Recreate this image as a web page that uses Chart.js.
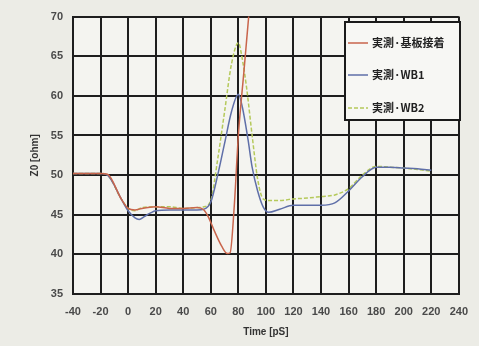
<!DOCTYPE html>
<html>
<head>
<meta charset="utf-8">
<script src="https://cdn.jsdelivr.net/npm/chart.js@4"></script>
<style>
html,body{margin:0;padding:0;background:#ecece6;}
#wrap{width:479px;height:346px;position:relative;}
</style>
</head>
<body>
<div id="wrap"><canvas id="c" width="479" height="346"></canvas></div>
<script>
// ---- data ----
const seriesLabels = ['実測·基板接着', '実測·WB1', '実測·WB2'];
const xTicks = [-40, -20, 0, 20, 40, 60, 80, 100, 120, 140, 160, 180, 200, 220, 240];
const yTicks = [35, 40, 45, 50, 55, 60, 65, 70];

const tRed = [-40, -20, -15, -5, 0, 5, 10, 20, 30, 40, 50, 55, 58, 63, 68, 72, 74, 77, 80, 84, 88, 91];
const vRed = [50.2, 50.2, 50.1, 47.0, 45.8, 45.6, 45.8, 46.0, 45.8, 45.8, 45.9, 45.6, 44.8, 42.8, 41.0, 40.1, 40.2, 46.0, 55.0, 63.0, 71.0, 77.0];

const tBlue = [-40, -20, -15, -5, 0, 5, 8, 12, 16, 20, 30, 40, 50, 55, 60, 65, 70, 75, 80, 83, 87, 90, 94, 98, 102, 110, 120, 130, 140, 150, 160, 170, 180, 190, 200, 210, 220];
const vBlue = [50.2, 50.2, 50.0, 47.0, 45.5, 44.6, 44.4, 44.8, 45.2, 45.5, 45.6, 45.6, 45.6, 45.7, 46.6, 50.0, 54.0, 58.0, 60.2, 58.5, 54.5, 51.0, 48.0, 46.0, 45.3, 45.7, 46.2, 46.2, 46.2, 46.5, 48.0, 49.8, 51.0, 51.0, 50.9, 50.8, 50.6];

const tGreen = [-40, -20, -15, -5, 0, 5, 10, 20, 30, 40, 50, 55, 60, 65, 70, 75, 80, 83, 86, 90, 94, 98, 102, 110, 120, 130, 140, 150, 160, 170, 180, 190, 200, 210, 220];
const vGreen = [50.2, 50.2, 50.0, 47.0, 45.8, 45.5, 45.9, 46.0, 46.0, 45.8, 45.9, 46.0, 46.8, 52.0, 58.0, 64.0, 66.7, 64.5, 61.0, 55.0, 49.5, 47.0, 46.8, 46.8, 47.0, 47.1, 47.3, 47.5, 48.3, 50.0, 51.1, 51.0, 50.9, 50.7, 50.5];

const colors = ['#c9654c', '#5f6fa8', '#b5c95a'];

function pts(t, v){ return t.map((x,i)=>({x:x, y:v[i]})); }

const bgPlugin = {
  id:'bg',
  beforeDraw(chart){
    const {ctx, chartArea:a} = chart;
    ctx.save();
    ctx.fillStyle = '#f4f4f0';
    ctx.fillRect(a.left, a.top, a.right-a.left, a.bottom-a.top);
    ctx.restore();
  }
};

const legendPlugin = {
  id:'boxLegend',
  afterDatasetsDraw(chart){
    const ctx = chart.ctx;
    const x0 = 345, y0 = 22, w = 115, h = 98;
    ctx.save();
    ctx.fillStyle = '#f7f7f4';
    ctx.fillRect(x0, y0, w, h);
    ctx.strokeStyle = '#1a1a1a';
    ctx.lineWidth = 2;
    ctx.strokeRect(x0, y0, w, h);
    const rows = [43, 75, 108];
    chart.data.datasets.forEach((ds,i)=>{
      const y = rows[i];
      ctx.strokeStyle = ds.borderColor;
      ctx.lineWidth = 1.5;
      ctx.setLineDash(ds.borderDash || []);
      ctx.beginPath(); ctx.moveTo(348, y); ctx.lineTo(368, y); ctx.stroke();
      ctx.setLineDash([]);
      ctx.fillStyle = '#222';
      ctx.font = 'bold 11px "Noto Sans CJK JP", sans-serif';
      ctx.textBaseline = 'middle';
      ctx.fillText(ds.label, 372, y);
    });
    ctx.restore();
  }
};

new Chart(document.getElementById('c'), {
  type:'line',
  data:{
    datasets:[
      {label:seriesLabels[0], data:pts(tRed, vRed), borderColor:colors[0], borderWidth:1.5, pointRadius:0, cubicInterpolationMode:'monotone'},
      {label:seriesLabels[1], data:pts(tBlue, vBlue), borderColor:colors[1], borderWidth:1.5, pointRadius:0, cubicInterpolationMode:'monotone'},
      {label:seriesLabels[2], data:pts(tGreen, vGreen), borderColor:colors[2], borderWidth:1.5, borderDash:[4,2], pointRadius:0, cubicInterpolationMode:'monotone'}
    ]
  },
  options:{
    responsive:false,
    animation:false,
    layout:{padding:{top:15, right:20, left:0, bottom:0}},
    plugins:{legend:{display:false}, tooltip:{enabled:false}},
    scales:{
      x:{
        type:'linear', min:-40, max:240,
        afterBuildTicks(s){ s.ticks = xTicks.map(v=>({value:v})); },
        afterFit(s){ s.height = 52; },
        grid:{color:'#1e1e1e', lineWidth:2, drawTicks:false},
        border:{color:'#1e1e1e', width:2},
        ticks:{padding:11, color:'#4a4a4a', font:{family:'Liberation Sans', size:11, weight:'bold'}, maxRotation:0, autoSkip:false},
        title:{display:true, text:'Time [pS]', color:'#333', font:{family:'Liberation Sans', size:10, weight:'bold'}, padding:{top:0,bottom:8}}
      },
      y:{
        type:'linear', min:35, max:70,
        afterBuildTicks(s){ s.ticks = yTicks.map(v=>({value:v})); },
        afterFit(s){ s.width = 73; },
        grid:{color:'#1e1e1e', lineWidth:2, drawTicks:false},
        border:{color:'#1e1e1e', width:2},
        ticks:{padding:10, color:'#4a4a4a', font:{family:'Liberation Sans', size:11, weight:'bold'}},
        title:{display:true, text:'Z0 [ohm]', color:'#333', font:{family:'Liberation Sans', size:10, weight:'bold'}, padding:{top:29,bottom:0}}
      }
    }
  },
  plugins:[bgPlugin, legendPlugin]
});
</script>
</body>
</html>
